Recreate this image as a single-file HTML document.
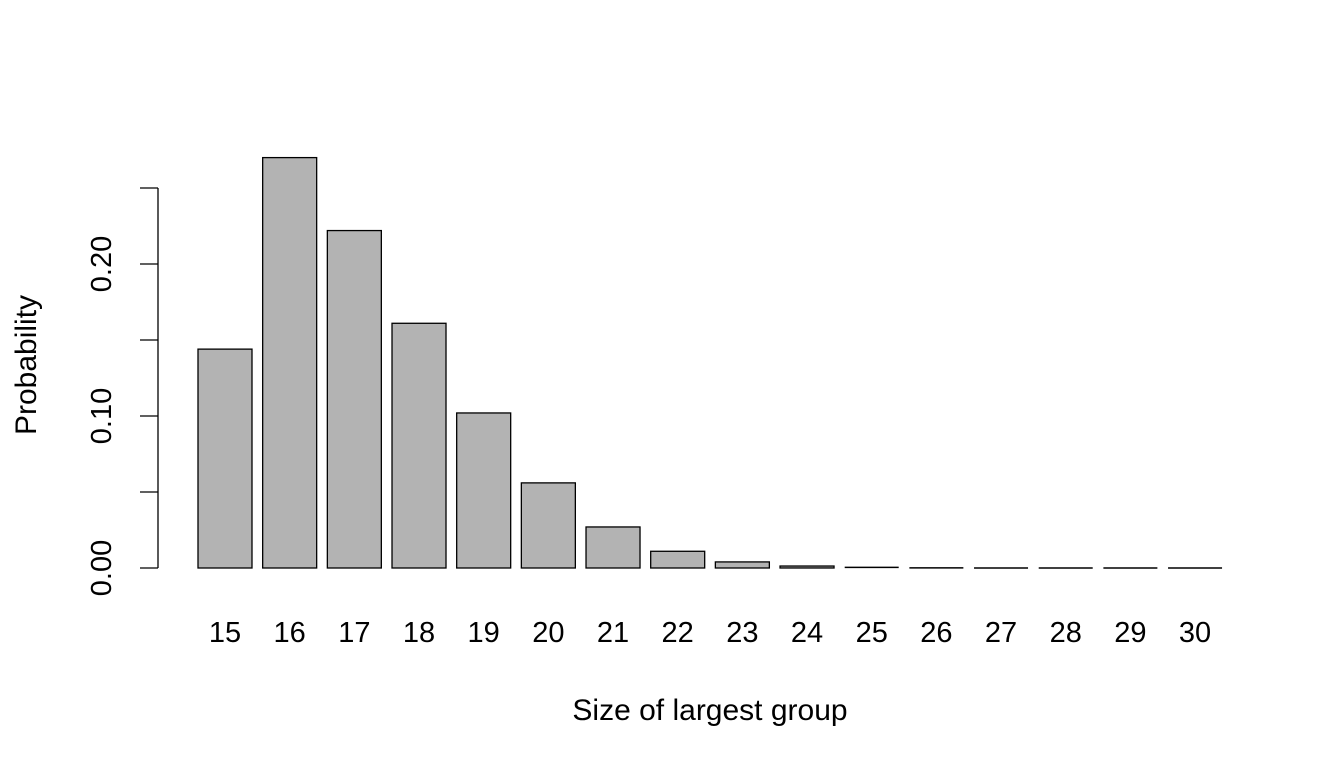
<!DOCTYPE html>
<html><head><meta charset="utf-8"><style>
html,body{margin:0;padding:0;background:#fff;}
svg text{font-family:"Liberation Sans",Arial,sans-serif;fill:#000;}
</style></head><body>
<svg id="chart" width="1344" height="768" xmlns="http://www.w3.org/2000/svg">
<g id="bars"></g>
<g id="yaxis"></g>
<g id="xlabels"></g>
<text x="710" y="720" font-size="30" text-anchor="middle">Size of largest group</text>
<text transform="translate(36,365) rotate(-90)" font-size="30" text-anchor="middle">Probability</text>
</svg>
<script>
const categories = ["15","16","17","18","19","20","21","22","23","24","25","26","27","28","29","30"];
const values = [0.144,0.270,0.222,0.161,0.102,0.056,0.027,0.011,0.004,0.0013,0.0004,0.0001,0.00003,0.00001,0,0];
const yTicks = [0,0.05,0.10,0.15,0.20,0.25];
const yTickLabels = ["0.00","","0.10","","0.20",""];
const NS="http://www.w3.org/2000/svg";
function y(v){return 568 - v*1520;}
function xLeft(i){return 198 + i*64.67;}
const barW=54;
const bars=document.getElementById('bars');
categories.forEach((c,i)=>{
  const top=y(values[i]);
  const h=568-top;
  if(h>=1){
    const r=document.createElementNS(NS,'rect');
    
    
    r.setAttribute('x',xLeft(i));r.setAttribute('y',top);
    r.setAttribute('width',barW);r.setAttribute('height',h);
    r.setAttribute('fill','#b3b3b3');r.setAttribute('stroke','#000');r.setAttribute('stroke-width','1.3');
    bars.appendChild(r);
  } else {
    const l=document.createElementNS(NS,'line');
    
    
    l.setAttribute('x1',xLeft(i));l.setAttribute('x2',xLeft(i)+barW);
    l.setAttribute('y1',top);l.setAttribute('y2',top);
    l.setAttribute('stroke','#000');l.setAttribute('stroke-width','1.5');
    bars.appendChild(l);
  }
  const t=document.createElementNS(NS,'text');
  
  
  t.setAttribute('x',xLeft(i)+barW/2);t.setAttribute('y',642);
  t.setAttribute('font-size','29');t.setAttribute('text-anchor','middle');
  t.textContent=c;
  document.getElementById('xlabels').appendChild(t);
});
const ya=document.getElementById('yaxis');
const ln=document.createElementNS(NS,'line');


ln.setAttribute('x1',158);ln.setAttribute('x2',158);
ln.setAttribute('y1',y(yTicks[0]));ln.setAttribute('y2',y(yTicks[yTicks.length-1]));
ln.setAttribute('stroke','#000');ln.setAttribute('stroke-width','1.3');
ya.appendChild(ln);
yTicks.forEach((v,i)=>{
  const tk=document.createElementNS(NS,'line');
  
  
  tk.setAttribute('x1',140);tk.setAttribute('x2',158);
  tk.setAttribute('y1',y(v));tk.setAttribute('y2',y(v));
  tk.setAttribute('stroke','#000');tk.setAttribute('stroke-width','1.3');
  ya.appendChild(tk);
  if(yTickLabels[i]){
    const t=document.createElementNS(NS,'text');
    
    
    t.setAttribute('transform','translate(111,'+y(v)+') rotate(-90)');
    t.setAttribute('font-size','29');t.setAttribute('text-anchor','middle');
    t.textContent=yTickLabels[i];
    ya.appendChild(t);
  }
});
</script>
</body></html>
